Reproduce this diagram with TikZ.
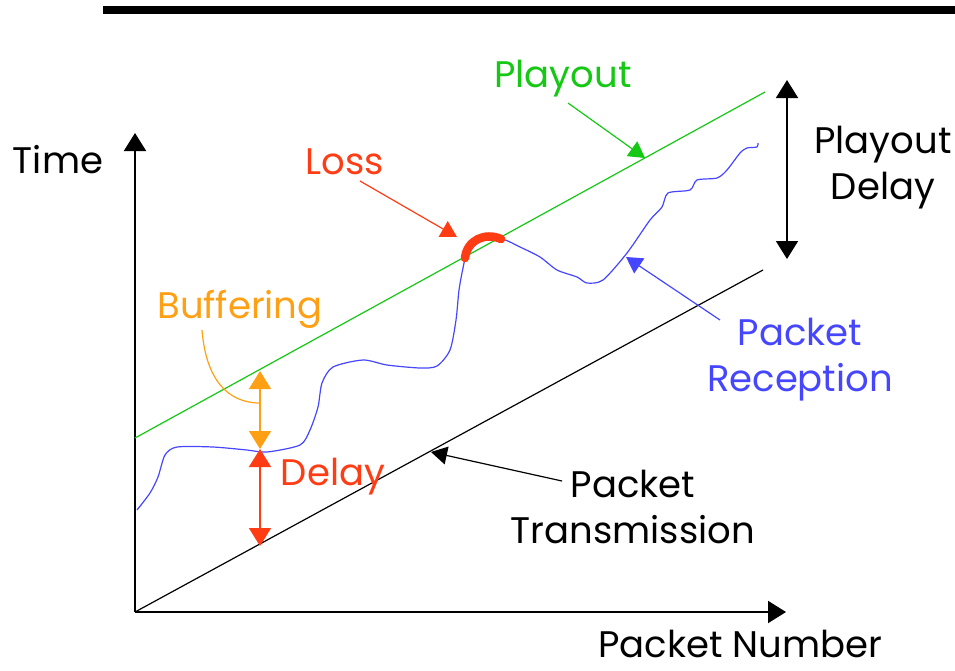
\documentclass[tikz,border=0pt]{standalone}
\usepackage{fontspec}
\setmainfont{Poppins}
\usetikzlibrary{arrows.meta}

\definecolor{playgreen}{RGB}{20,200,20}
\definecolor{recblue}{RGB}{70,70,255}
\definecolor{lossred}{RGB}{255,60,20}
\definecolor{bufforange}{RGB}{255,160,20}

\tikzset{
  tip/.style={-{Triangle[length=18pt,width=22pt]}},
  dbltip/.style={{Triangle[length=18pt,width=22pt]}-{Triangle[length=18pt,width=22pt]}},
  lbl/.style={font=\fontsize{37}{46}\selectfont, align=center, inner sep=0pt},
  axis/.style={line width=2pt, black},
  graphline/.style={line width=1.2pt},
  pointer/.style={line width=1.2pt, -{Triangle[length=16pt,width=18pt]}}
}

\begin{document}
\begin{tikzpicture}[x=1pt,y=-1pt]
\path[use as bounding box] (0,0) rectangle (955,670);

% header bar
\fill[black] (103,6) rectangle (955,14);

% axes
\coordinate (O) at (135,612);
\coordinate (ytop) at (135,133);
\coordinate (xend) at (786,612);
\draw[axis, tip] (O) -- (ytop);
\draw[axis, tip] (O) -- (xend);

% transmission and playout lines
\coordinate (txend) at (763,270);
\coordinate (pstart) at (135,438);
\coordinate (pend) at (765,92);
\draw[graphline, black] (O) -- (txend);
\draw[graphline, playgreen] (pstart) -- (pend);

% reception curve
\draw[graphline, recblue, line join=round]
  plot[smooth, tension=0.45] coordinates {
   (137,510) (150,493) (158,477) (165,455) (177,447) (213,447) (247,450)
   (267,452) (300,445) (310,430) (318,407) (322,383) (333,367) (363,360)
   (387,365) (420,368) (437,366) (450,350) (456,320) (459,290) (463,268)
   (466,258) (480,240) (502,239) (520,247) (540,257) (557,270) (577,277)
   (587,283) (603,280) (627,253) (650,220) (662,207) (668,193) (690,190)
   (697,180) (717,178) (727,170) (740,153) (747,148) (757,147) (758,143)};

% lost packets
\draw[lossred, line width=8.5pt, line cap=round]
  (465,258) .. controls (467,240) and (485,232) .. (501,239);

% labels
\node[lbl] (time) at (58,160) {Time};
\node[lbl] (pnum) at (740,644) {Packet Number};
\node[lbl, text=playgreen] (playout) at (563,79) {Playout};
\node[lbl, text=lossred] (loss) at (345,162) {Loss};
\node[lbl] (pdelay) at (883,168) {Playout\\Delay};
\node[lbl, text=bufforange] (buff) at (240,309) {Buffering};
\node[lbl, text=recblue] (prec) at (800,360) {Packet\\Reception};
\node[lbl, text=lossred] (delay) at (333,477) {Delay};
\node[lbl] (ptx) at (633,507) {Packet\\Transmission};

% pointers from labels
\coordinate (playtail) at (568,103);
\coordinate (playhead) at (645,158);
\draw[pointer, playgreen] (playtail) -- (playhead);

\coordinate (losstail) at (360,181);
\coordinate (losshead) at (457,237);
\draw[pointer, lossred] (losstail) -- (losshead);

\coordinate (rectail) at (720,320);
\coordinate (rechead) at (626,257);
\draw[pointer, recblue] (rectail) -- (rechead);

\coordinate (txtail) at (562,481);
\coordinate (txhead) at (431,452);
\draw[pointer, black] (txtail) -- (txhead);

% playout delay span
\coordinate (pdtop) at (787,80);
\coordinate (pdbot) at (787,259);
\draw[line width=1.8pt, black, dbltip] (pdtop) -- (pdbot);

% buffering and delay spans
\coordinate (bufftop) at (260,371);
\coordinate (buffbot) at (260,449);
\coordinate (delaybot) at (260,546);
\draw[line width=1.5pt, bufforange, dbltip] (bufftop) -- (buffbot);
\draw[line width=1.5pt, lossred, dbltip] (buffbot) -- (delaybot);

% buffering callout
\coordinate (bufftail) at (202,330);
\coordinate (buffend) at (260,403);
\draw[line width=1.2pt, bufforange] (bufftail) .. controls (206,380) and (228,403) .. (buffend);
\end{tikzpicture}
\end{document}
